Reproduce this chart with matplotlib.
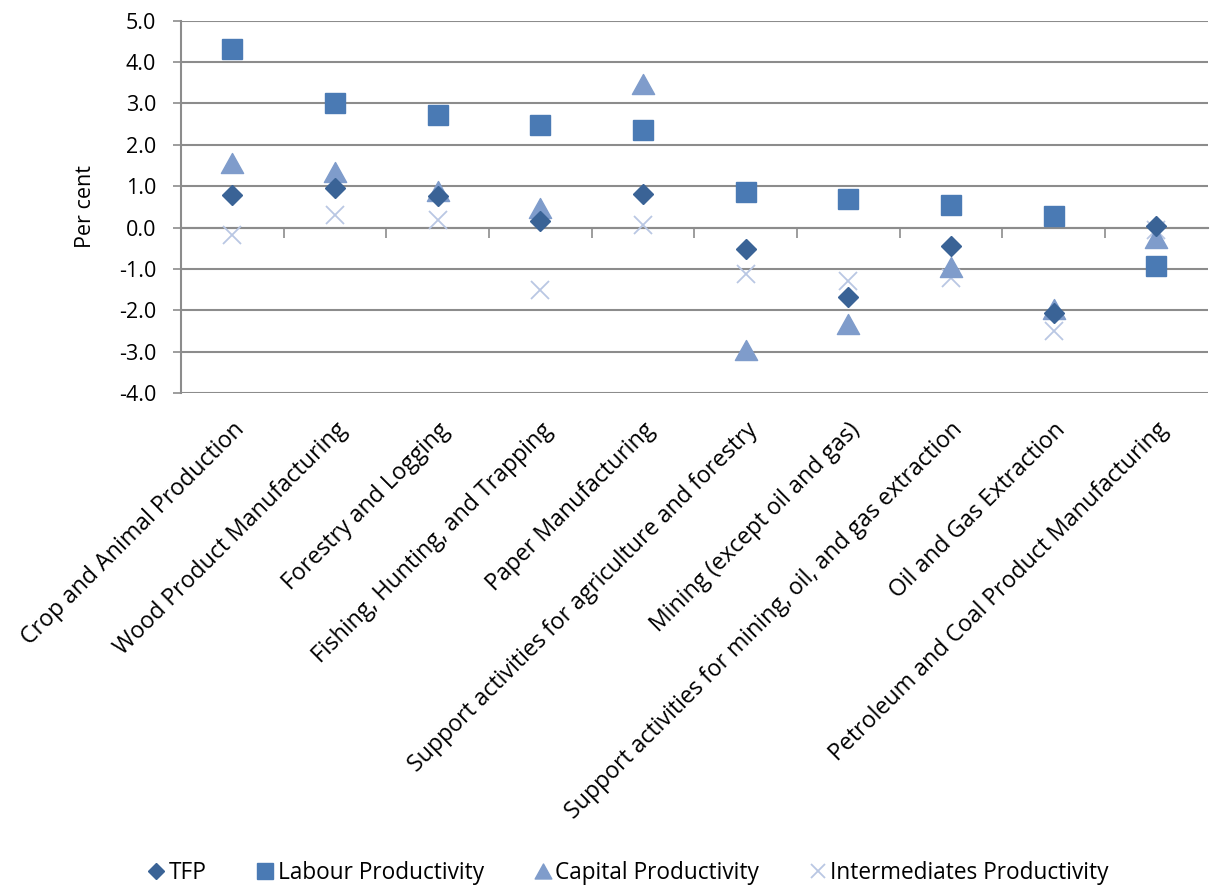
import numpy as np
import matplotlib
matplotlib.use("Agg")
import matplotlib.pyplot as plt
from matplotlib.path import Path

plt.rcParams['font.family'] = ['Open Sans', 'DejaVu Sans']

industries = [
    "Crop and Animal Production",
    "Wood Product Manufacturing",
    "Forestry and Logging",
    "Fishing, Hunting, and Trapping",
    "Paper Manufacturing",
    "Support activities for agriculture and forestry",
    "Mining (except oil and gas)",
    "Support activities for mining, oil, and gas extraction",
    "Oil and Gas Extraction",
    "Petroleum and Coal Product Manufacturing",
]
tfp = [0.79, 0.95, 0.77, 0.15, 0.81, -0.52, -1.67, -0.44, -2.07, 0.03]
labour = [4.31, 3.00, 2.72, 2.47, 2.36, 0.86, 0.69, 0.54, 0.27, -0.92]
capital = [1.57, 1.35, 0.89, 0.47, 3.48, -2.96, -2.33, -0.96, -1.96, -0.26]
intermediates = [-0.18, 0.31, 0.19, -1.52, 0.07, -1.13, -1.30, -1.21, -2.51, -0.05]

grid_col = "#8c8c8c"
fs = 15.5
x = np.arange(len(industries))

# wide, flat triangle like the spreadsheet marker
tri = Path([(-1.0, -0.9), (1.0, -0.9), (0.0, 0.9), (-1.0, -0.9)],
           [Path.MOVETO, Path.LINETO, Path.LINETO, Path.CLOSEPOLY])

fig = plt.figure(figsize=(12.1, 8.88), dpi=100)
ax = fig.add_axes([0.1496, 0.5574, 0.8484, 0.4193])

ax.plot(x, intermediates, linestyle="none", marker="x", markersize=13,
        markeredgewidth=1.3, color="#b9c7e3", label="Intermediates Productivity", zorder=3)
ax.plot(x, capital, linestyle="none", marker=tri, markersize=16,
        color="#7f9ccb", label="Capital Productivity", zorder=4)
ax.plot(x, labour, linestyle="none", marker="s", markersize=14.5,
        color="#4a7ab4", label="Labour Productivity", zorder=5)
ax.plot(x, tfp, linestyle="none", marker="D", markersize=10.5,
        color="#3a6396", label="TFP", zorder=6)

ax.set_xlim(-0.5, len(industries) - 0.5)
ax.set_ylim(-4, 5)
ax.set_yticks(np.arange(-4, 5.1, 1))
ax.set_yticklabels([f"{v:.1f}" for v in np.arange(-4, 5.1, 1)], fontsize=fs)
ax.yaxis.grid(True, color=grid_col, linewidth=1.5)
ax.set_axisbelow(True)
ax.tick_params(axis="y", length=6, width=1.2, color=grid_col, pad=12)
ax.set_ylabel("Per cent", fontsize=fs, labelpad=16)

for side in ["top", "right", "bottom"]:
    ax.spines[side].set_visible(False)
ax.spines["left"].set_color(grid_col)
ax.spines["left"].set_linewidth(1.5)

# category labels under the plot
ax.set_xticks(x)
ax.set_xticklabels(industries, rotation=45, ha="right", rotation_mode="anchor",
                   fontsize=16.7)
ax.tick_params(axis="x", length=0, pad=18)

# category axis crossing at zero, with ticks between categories
zero_axis = ax.secondary_xaxis(4 / 9)
zero_axis.spines["bottom"].set_color(grid_col)
zero_axis.spines["bottom"].set_linewidth(1.5)
zero_axis.set_xticks(np.arange(0.5, len(industries) - 0.5, 1))
zero_axis.tick_params(axis="x", length=7, width=1.2, color=grid_col,
                      labelbottom=False)

handles, labels = ax.get_legend_handles_labels()
order = [3, 2, 1, 0]
fig.legend([handles[i] for i in order], [labels[i] for i in order],
           loc="center", bbox_to_anchor=(0.518, 0.017), ncol=4, frameon=False,
           fontsize=16.3, handletextpad=0.05, columnspacing=2.1, markerscale=0.75,
           handlelength=1.0)

fig.savefig("out.png", dpi=100)
